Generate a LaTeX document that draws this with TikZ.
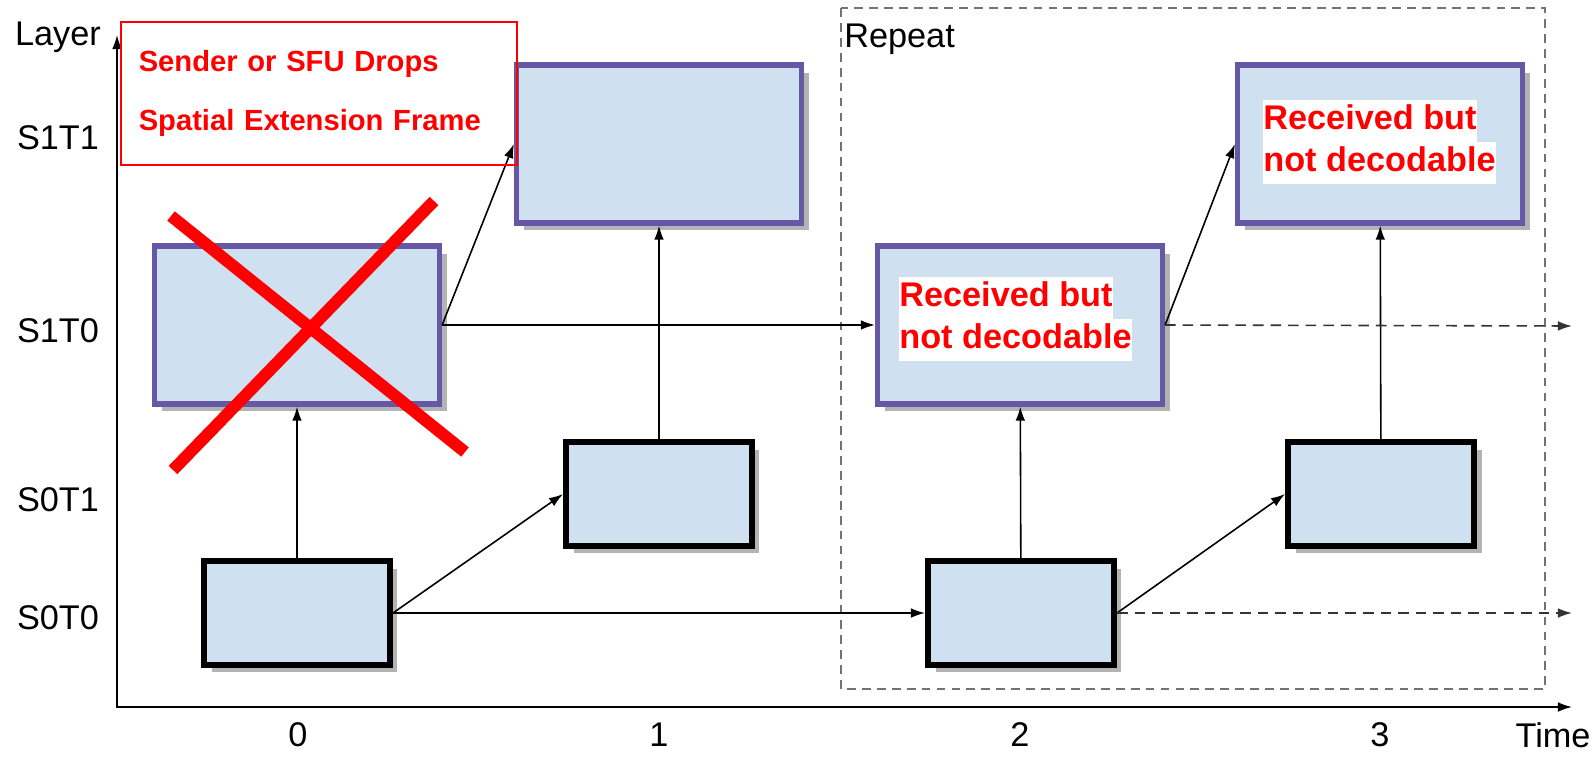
\documentclass[tikz,border=0pt]{standalone}
\usepackage{fontspec}
\setmainfont{Liberation Sans}
\usetikzlibrary{shadows,arrows.meta}
\definecolor{framefill}{RGB}{207,224,240}
\definecolor{framepurple}{RGB}{102,88,164}
\setlength{\fboxsep}{0pt}
\newcommand{\whiteline}[1]{\colorbox{white}{\strut#1}}
\newcommand{\undecodable}{\whiteline{Received but}\\\whiteline{not decodable}}

\begin{document}
\begin{tikzpicture}[
        x=0.02cm, y=-0.02cm,
        tile/.style={
            fill=framefill,
            drop shadow={shadow xshift=.15cm,shadow yshift=-.15cm,opacity=.6},
            inner sep=0pt,
        },
        extbox/.style={tile, draw=framepurple, line width=3pt,
            minimum width=5.7cm, minimum height=3.16cm},
        basebox/.style={tile, draw=black, line width=3.4pt,
            minimum width=3.72cm, minimum height=2.08cm},
        link/.style={-{Latex[length=8pt,width=5.5pt]}, line width=.9pt},
        carry/.style={link, draw=black!80, dash pattern=on 6pt off 4pt},
        axis/.style={{Latex[length=8pt,width=5.5pt]}-{Latex[length=8pt,width=5.5pt]}, line width=.9pt},
        axislabel/.style={font=\fontsize{19.5}{23}\selectfont},
        note/.style={text=red, align=left, inner sep=0pt,
            font=\fontsize{19.5}{23.8}\selectfont\bfseries},
        dropmark/.style={red, line width=.24cm},
        repeatframe/.style={draw=black!55, line width=1.3pt, dash pattern=on 5pt off 3.5pt},
    ]
    \useasboundingbox (0,0) rectangle (1594,757);

    \draw[repeatframe] (841,8) rectangle (1545,689);
    \node[axislabel, anchor=west, inner sep=0pt] (repeat) at (844,39) {Repeat};

    \coordinate (ytip) at (117,35);
    \coordinate (xtip) at (1572,707);
    \draw[axis] (ytip) |- (xtip);
    \node[axislabel] (layer) at (58,37) {Layer};
    \node[axislabel] (time) at (1553,735) {Time};
    \foreach \name/\y in {S1T1/138,S1T0/331,S0T1/500,S0T0/618}
        \node[axislabel] (row\name) at (58,\y) {\name};
    \foreach \t/\x in {0/298,1/659,2/1020,3/1380}
        \node[axislabel] (tick\t) at (\x,735) {\t};

    \node[extbox] (hi0) at (297,325) {};
    \node[basebox] (lo0) at (297,613) {};
    \node[extbox] (hi1) at (659,144) {};
    \node[basebox] (lo1) at (659,494) {};
    \node[extbox] (hi2) at (1020,325) {};
    \node[basebox] (lo2) at (1021,613) {};
    \node[extbox] (hi3) at (1380,144) {};
    \node[basebox] (lo3) at (1381,494) {};

    \draw[link] (lo0) -- (hi0);
    \draw[link] (lo0.east) -- (lo1.west);
    \draw[link] (lo0.east) -- (lo2.west);
    \draw[link] (hi0.east) -- (hi1.west);
    \draw[link] (hi0.east) -- (hi2.west);
    \draw[link] (lo1) -- (hi1);
    \draw[link] (lo2) -- (hi2);
    \draw[link] (lo2.east) -- (lo3.west);
    \draw[link] (hi2.east) -- (hi3.west);
    \draw[link] (lo3) -- (hi3);

    \coordinate (hiend) at (1572,326);
    \coordinate (loend) at (1572,613);
    \draw[carry] (hi2.east) -- (hiend);
    \draw[carry] (lo2.east) -- (loend);

    \node[note, anchor=north west] (late2) at (899,277) {\undecodable};
    \node[note, anchor=north west] (late3) at (1263,100) {\undecodable};

    \node[draw=red, line width=.9pt, anchor=north west, text=red, align=left,
        text width=7.2cm, inner xsep=.36cm, minimum height=2.86cm,
        font=\fontsize{16.6}{33.5}\selectfont\bfseries] (dropnote) at (120,21)
        {Sender or SFU Drops\\Spatial Extension Frame};

    \draw[dropmark] (171,216) -- (465,452);
    \draw[dropmark] (434,201) -- (173,470);
\end{tikzpicture}
\end{document}
